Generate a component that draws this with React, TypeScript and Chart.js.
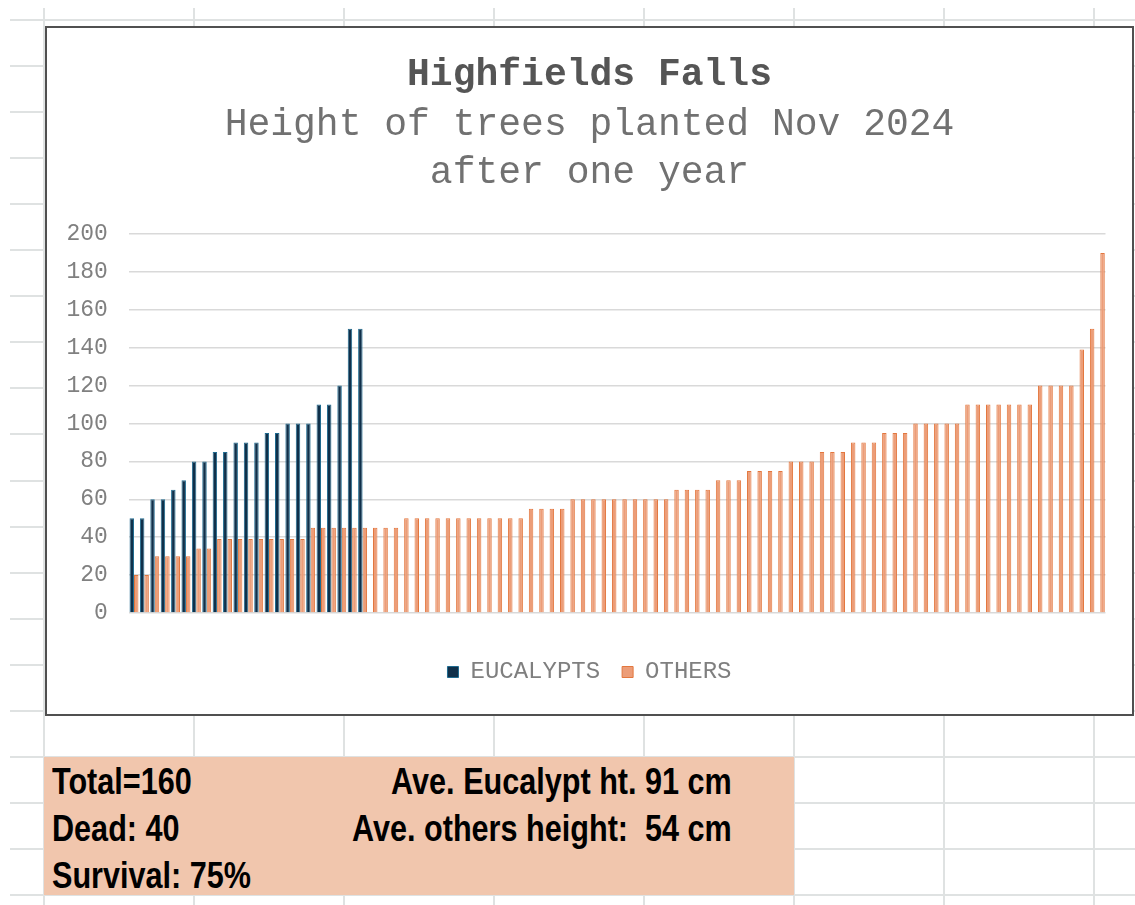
import React, { useEffect, useRef } from "react";
import { Chart, registerables } from "chart.js";

Chart.register(...registerables);

// ---- data ----
const eucalyptHeights = [
  50, 50, 60, 60, 65, 70, 80, 80, 85, 85, 90, 90, 90, 95, 95, 100, 100, 100, 110, 110, 120, 150, 150,
];

const otherHeights = [
  20, 20,
  30, 30, 30, 30,
  34, 34,
  39, 39, 39, 39, 39, 39, 39, 39, 39,
  45, 45, 45, 45, 45, 45, 45, 45, 45,
  50, 50, 50, 50, 50, 50, 50, 50, 50, 50, 50, 50,
  55, 55, 55, 55,
  60, 60, 60, 60, 60, 60, 60, 60, 60, 60,
  65, 65, 65, 65,
  70, 70, 70,
  75, 75, 75, 75,
  80, 80, 80,
  85, 85, 85,
  90, 90, 90,
  95, 95, 95,
  100, 100, 100, 100, 100,
  110, 110, 110, 110, 110, 110, 110,
  120, 120, 120, 120,
  139, 150, 190,
];

const treeLabels = otherHeights.map((_, i) => String(i + 1));
const seriesNames = ["EUCALYPTS", "OTHERS"];
const yMin = 0;
const yMax = 200;
const yStep = 20;

const titleText = "Highfields Falls";
const subtitleLines = ["Height of trees planted Nov 2024", "after one year"];

const summaryLeft = ["Total=160", "Dead: 40", "Survival: 75%"];
const summaryRight = ["Ave. Eucalypt ht. 91 cm", "Ave. others height:  54 cm"];

const MONO = "'Courier New', 'Liberation Mono', monospace";

function TreeChart() {
  const ref = useRef<HTMLCanvasElement | null>(null);
  useEffect(() => {
    if (!ref.current) return;
    const chart = new Chart(ref.current, {
      type: "bar",
      data: {
        labels: treeLabels,
        datasets: [
          {
            label: seriesNames[0],
            data: eucalyptHeights,
            backgroundColor: "#10304a",
            borderColor: "#1f6b90",
            borderWidth: 1,
            categoryPercentage: 0.86,
            barPercentage: 1.0,
          },
          {
            label: seriesNames[1],
            data: otherHeights,
            backgroundColor: "#ec9d78",
            borderColor: "#e3773e",
            borderWidth: 1,
            categoryPercentage: 0.86,
            barPercentage: 1.0,
          },
        ],
      },
      options: {
        responsive: false,
        animation: false,
        devicePixelRatio: 1,
        layout: { padding: { left: 0, right: 0, top: 0, bottom: 20 } },
        plugins: {
          title: {
            display: true,
            text: titleText,
            color: "#555555",
            font: { family: MONO, size: 38, weight: "bold", lineHeight: 1.25 },
            padding: { top: 23.5, bottom: 0 },
          },
          subtitle: {
            display: true,
            text: subtitleLines,
            color: "#717171",
            font: { family: MONO, size: 38, weight: "normal", lineHeight: 48 / 38 },
            padding: { top: 1.5, bottom: 37.5 },
          },
          legend: {
            display: true,
            position: "bottom",
            labels: {
              font: { family: MONO, size: 24 },
              color: "#7f7f7f",
              boxWidth: 11,
              boxHeight: 11,
              padding: 22,
            },
          },
          tooltip: { enabled: false },
        },
        scales: {
          x: {
            grid: { display: false },
            border: { display: false },
            ticks: { display: false },
            afterFit: (s: any) => {
              s.height = 25;
            },
          },
          y: {
            min: yMin,
            max: yMax,
            ticks: {
              stepSize: yStep,
              padding: 21,
              color: "#808080",
              font: { family: MONO, size: 23 },
            },
            grid: { color: "#d9d9d9", lineWidth: 1.5, drawTicks: false },
            border: { display: false },
            afterFit: (s: any) => {
              s.width = 81.8;
            },
          },
          yPad: {
            type: "linear",
            axis: "y",
            position: "right",
            grid: { display: false },
            border: { display: false },
            ticks: { display: false },
            afterFit: (s: any) => {
              s.width = 26.5;
            },
          },
        },
      } as any,
    });
    return () => chart.destroy();
  }, []);
  return <canvas ref={ref} width={1085} height={686} style={{ display: "block", width: 1085, height: 686 }} />;
}

const rowLines = Array.from({ length: 20 }, (_, k) => Math.round(20 + k * 46.05));
const colLines = [44, 194, 344, 494, 644, 794, 944, 1094];

export default function App() {
  const textBase: React.CSSProperties = {
    position: "absolute",
    fontFamily: "'Liberation Sans', Arial, sans-serif",
    fontWeight: "bold",
    fontSize: 36,
    lineHeight: "36px",
    color: "#000",
    whiteSpace: "pre",
  };
  return (
    <div
      style={{
        position: "absolute",
        left: 0,
        top: 0,
        width: 1135,
        height: 905,
        background: "#ffffff",
        overflow: "hidden",
      }}
    >
      {rowLines.map((y) => (
        <div
          key={"r" + y}
          style={{ position: "absolute", left: 10, top: y - 1, width: 1125, height: 2, background: "#dfe2e2" }}
        />
      ))}
      {colLines.map((x) => (
        <div
          key={"c" + x}
          style={{ position: "absolute", left: x - 1, top: 8, width: 2, height: 897, background: "#dfe2e2" }}
        />
      ))}

      {/* summary block */}
      <div
        style={{ position: "absolute", left: 44, top: 757, width: 750, height: 138, background: "#f1c6ad" }}
      >
        {summaryLeft.map((t, i) => (
          <div
            key={t}
            style={{
              ...textBase,
              left: 8,
              top: 7 + i * 47,
              transform: "scaleX(0.85)",
              transformOrigin: "left center",
            }}
          >
            {t}
          </div>
        ))}
        {summaryRight.map((t, i) => (
          <div
            key={t}
            style={{
              ...textBase,
              right: 750 - 688,
              top: 7 + i * 47,
              transform: "scaleX(0.85)",
              transformOrigin: "right center",
            }}
          >
            {t}
          </div>
        ))}
      </div>

      {/* chart box */}
      <div
        style={{
          position: "absolute",
          left: 45,
          top: 26,
          width: 1089,
          height: 690,
          boxSizing: "border-box",
          border: "2px solid #505050",
          background: "#ffffff",
        }}
      >
        <TreeChart />
      </div>
    </div>
  );
}
